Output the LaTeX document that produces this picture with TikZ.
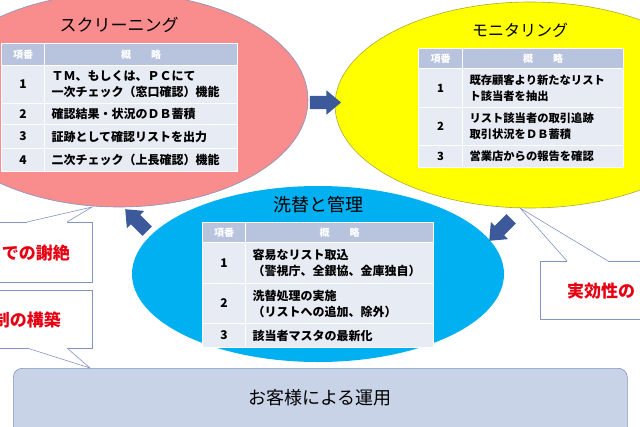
\documentclass[tikz,border=0pt]{standalone}
\usepackage{fontspec}
\setmainfont{Noto Sans CJK JP}
\usepackage{tikz}
\usetikzlibrary{shapes.geometric,shapes.arrows,calc}
\definecolor{scrpink}{RGB}{249,140,140}
\definecolor{monyel}{RGB}{255,255,0}
\definecolor{aracyan}{RGB}{0,176,240}
\definecolor{hdc}{RGB}{184,196,222}
\definecolor{rowc}{RGB}{231,235,243}
\definecolor{arrc}{RGB}{60,90,155}
\definecolor{lnc}{RGB}{130,148,192}
\definecolor{barc}{RGB}{201,211,232}
\definecolor{redc}{RGB}{230,0,18}

\begin{document}
\begin{tikzpicture}[x=1pt,y=-1pt,
  hd/.style={fill=hdc,draw=white,line width=1pt,text=white,font=\fontsize{10}{12}\selectfont\bfseries,anchor=north west,inner sep=0pt},
  cell/.style={fill=rowc,draw=white,line width=1pt,font=\fontsize{12}{16}\selectfont\bfseries,anchor=north west,inner sep=0pt},
  txt/.style={cell,align=left,inner xsep=7pt},
  blk/.style={single arrow,fill=arrc,inner xsep=0pt,inner ysep=6.5pt,minimum height=31pt,single arrow head extend=5.5pt,single arrow tip angle=80},
  bubble/.style={draw=lnc,fill=white,line width=0.6pt,anchor=north west,inner sep=0pt},
  warn/.style={text=redc,inner sep=0pt,font=\fontsize{17}{20}\selectfont\bfseries},
  ttl/.style={font=\fontsize{17}{20}\selectfont}]
  \useasboundingbox (0,0) rectangle (640,426);

  % three phases
  \node[ellipse,draw=lnc,line width=0.6pt,fill=scrpink,minimum width=378pt,minimum height=214pt] (scr) at (119,100) {};
  \node[ellipse,draw=olive!70,line width=0.6pt,fill=monyel,minimum width=390pt,minimum height=206pt] (mon) at (530,105) {};
  \node[ellipse,fill=aracyan,minimum width=372pt,minimum height=176pt] (ara) at (318,274) {};

  % screening
  \node[ttl] (scr-t) at (119,25) {スクリーニング};
  \node[hd,minimum width=43pt,minimum height=22pt] (s-h1) at (1,43) {項番};
  \node[hd,minimum width=193pt,minimum height=22pt] (s-h2) at (44,43) {概　　略};
  \node[cell,minimum width=43pt,minimum height=38pt] (s-n1) at (1,65) {1};
  \node[txt,text width=179pt,minimum height=38pt] (s-t1) at (44,65) {ＴＭ、もしくは、ＰＣにて\\一次チェック（窓口確認）機能};
  \node[cell,minimum width=43pt,minimum height=21pt] (s-n2) at (1,103) {2};
  \node[txt,text width=179pt,minimum height=21pt] (s-t2) at (44,103) {確認結果・状況のＤＢ蓄積};
  \node[cell,minimum width=43pt,minimum height=24pt] (s-n3) at (1,124) {3};
  \node[txt,text width=179pt,minimum height=24pt] (s-t3) at (44,124) {証跡として確認リストを出力};
  \node[cell,minimum width=43pt,minimum height=23pt] (s-n4) at (1,148) {4};
  \node[txt,text width=179pt,minimum height=23pt] (s-t4) at (44,148) {二次チェック（上長確認）機能};

  % monitoring
  \node[ttl,font=\fontsize{16}{20}\selectfont] (mon-t) at (520,30) {モニタリング};
  \begin{scope}[cell/.append style={font=\fontsize{11.3}{16}\selectfont\bfseries}]
  \node[hd,minimum width=44pt,minimum height=20pt] (m-h1) at (418,48) {項番};
  \node[hd,minimum width=161pt,minimum height=20pt] (m-h2) at (462,48) {概　　略};
  \node[cell,minimum width=44pt,minimum height=39pt] (m-n1) at (418,68) {1};
  \node[txt,text width=147pt,minimum height=39pt] (m-t1) at (462,68) {既存顧客より新たなリスト\\ト該当者を抽出};
  \node[cell,minimum width=44pt,minimum height=38pt] (m-n2) at (418,107) {2};
  \node[txt,text width=147pt,minimum height=38pt] (m-t2) at (462,107) {リスト該当者の取引追跡\\取引状況をＤＢ蓄積};
  \node[cell,minimum width=44pt,minimum height=22pt] (m-n3) at (418,145) {3};
  \node[txt,text width=147pt,minimum height=22pt] (m-t3) at (462,145) {営業店からの報告を確認};
  \end{scope}

  % cleansing and management
  \node[ttl,font=\fontsize{18}{20}\selectfont] (ara-t) at (318,205) {洗替と管理};
  \node[hd,minimum width=43pt,minimum height=20pt] (a-h1) at (202,222) {項番};
  \node[hd,minimum width=188pt,minimum height=20pt] (a-h2) at (245,222) {概　　略};
  \node[cell,minimum width=43pt,minimum height=41pt] (a-n1) at (202,242) {1};
  \node[txt,text width=174pt,minimum height=41pt] (a-t1) at (245,242) {容易なリスト取込\\（警視庁、全銀協、金庫独自）};
  \node[cell,minimum width=43pt,minimum height=40pt] (a-n2) at (202,283) {2};
  \node[txt,text width=174pt,minimum height=40pt] (a-t2) at (245,283) {洗替処理の実施\\（リストへの追加、除外）};
  \node[cell,minimum width=43pt,minimum height=24pt] (a-n3) at (202,323) {3};
  \node[txt,text width=174pt,minimum height=24pt] (a-t3) at (245,323) {該当者マスタの最新化};

  % cycle arrows
  \node[blk] (ar1) at ($(scr.east)!0.5!(mon.west)$) {};
  \node[blk,rotate=-135] (ar2) at (503,227) {};
  \node[blk,rotate=135] (ar3) at (139,223) {};

  % customer bar
  \node[draw=lnc,line width=0.6pt,fill=barc,rounded corners=9pt,minimum width=614pt,minimum height=80pt,anchor=north west] (bar) at (13,368) {};
  \node[font=\fontsize{18}{20}\selectfont] (bar-t) at (320,398) {お客様による運用};

  % callouts
  \node[bubble,minimum width=152pt,minimum height=60pt] (c1) at (-60,222) {};
  \coordinate (c1-p) at (92,207);
  \fill[white] (27,223.5) -- (27,222) -- (c1-p) -- (67,222) -- (67,223.5) -- cycle;
  \draw[lnc,line width=0.6pt] (27,222) -- (c1-p) -- (67,222);
  \node[warn,anchor=east] (c1-t) at (70,253) {での謝絶};

  \node[bubble,minimum width=152pt,minimum height=58pt] (c2) at (-60,290) {};
  \coordinate (c2-p) at (90,368);
  \fill[white] (27,346.5) -- (27,348) -- (c2-p) -- (67,348) -- (67,346.5) -- cycle;
  \draw[lnc,line width=0.6pt] (27,348) -- (c2-p) -- (67,348);
  \node[warn,anchor=east] (c2-t) at (61,320) {制の構築};

  \node[bubble,minimum width=160pt,minimum height=58pt] (c3) at (540,261) {};
  \coordinate (c3-p) at (520,208);
  \fill[white] (567,262.5) -- (567,261) -- (c3-p) -- (608,261) -- (608,262.5) -- cycle;
  \draw[lnc,line width=0.6pt] (567,261) -- (c3-p) -- (608,261);
  \node[warn,anchor=west] (c3-t) at (567,291) {実効性の};
\end{tikzpicture}
\end{document}
